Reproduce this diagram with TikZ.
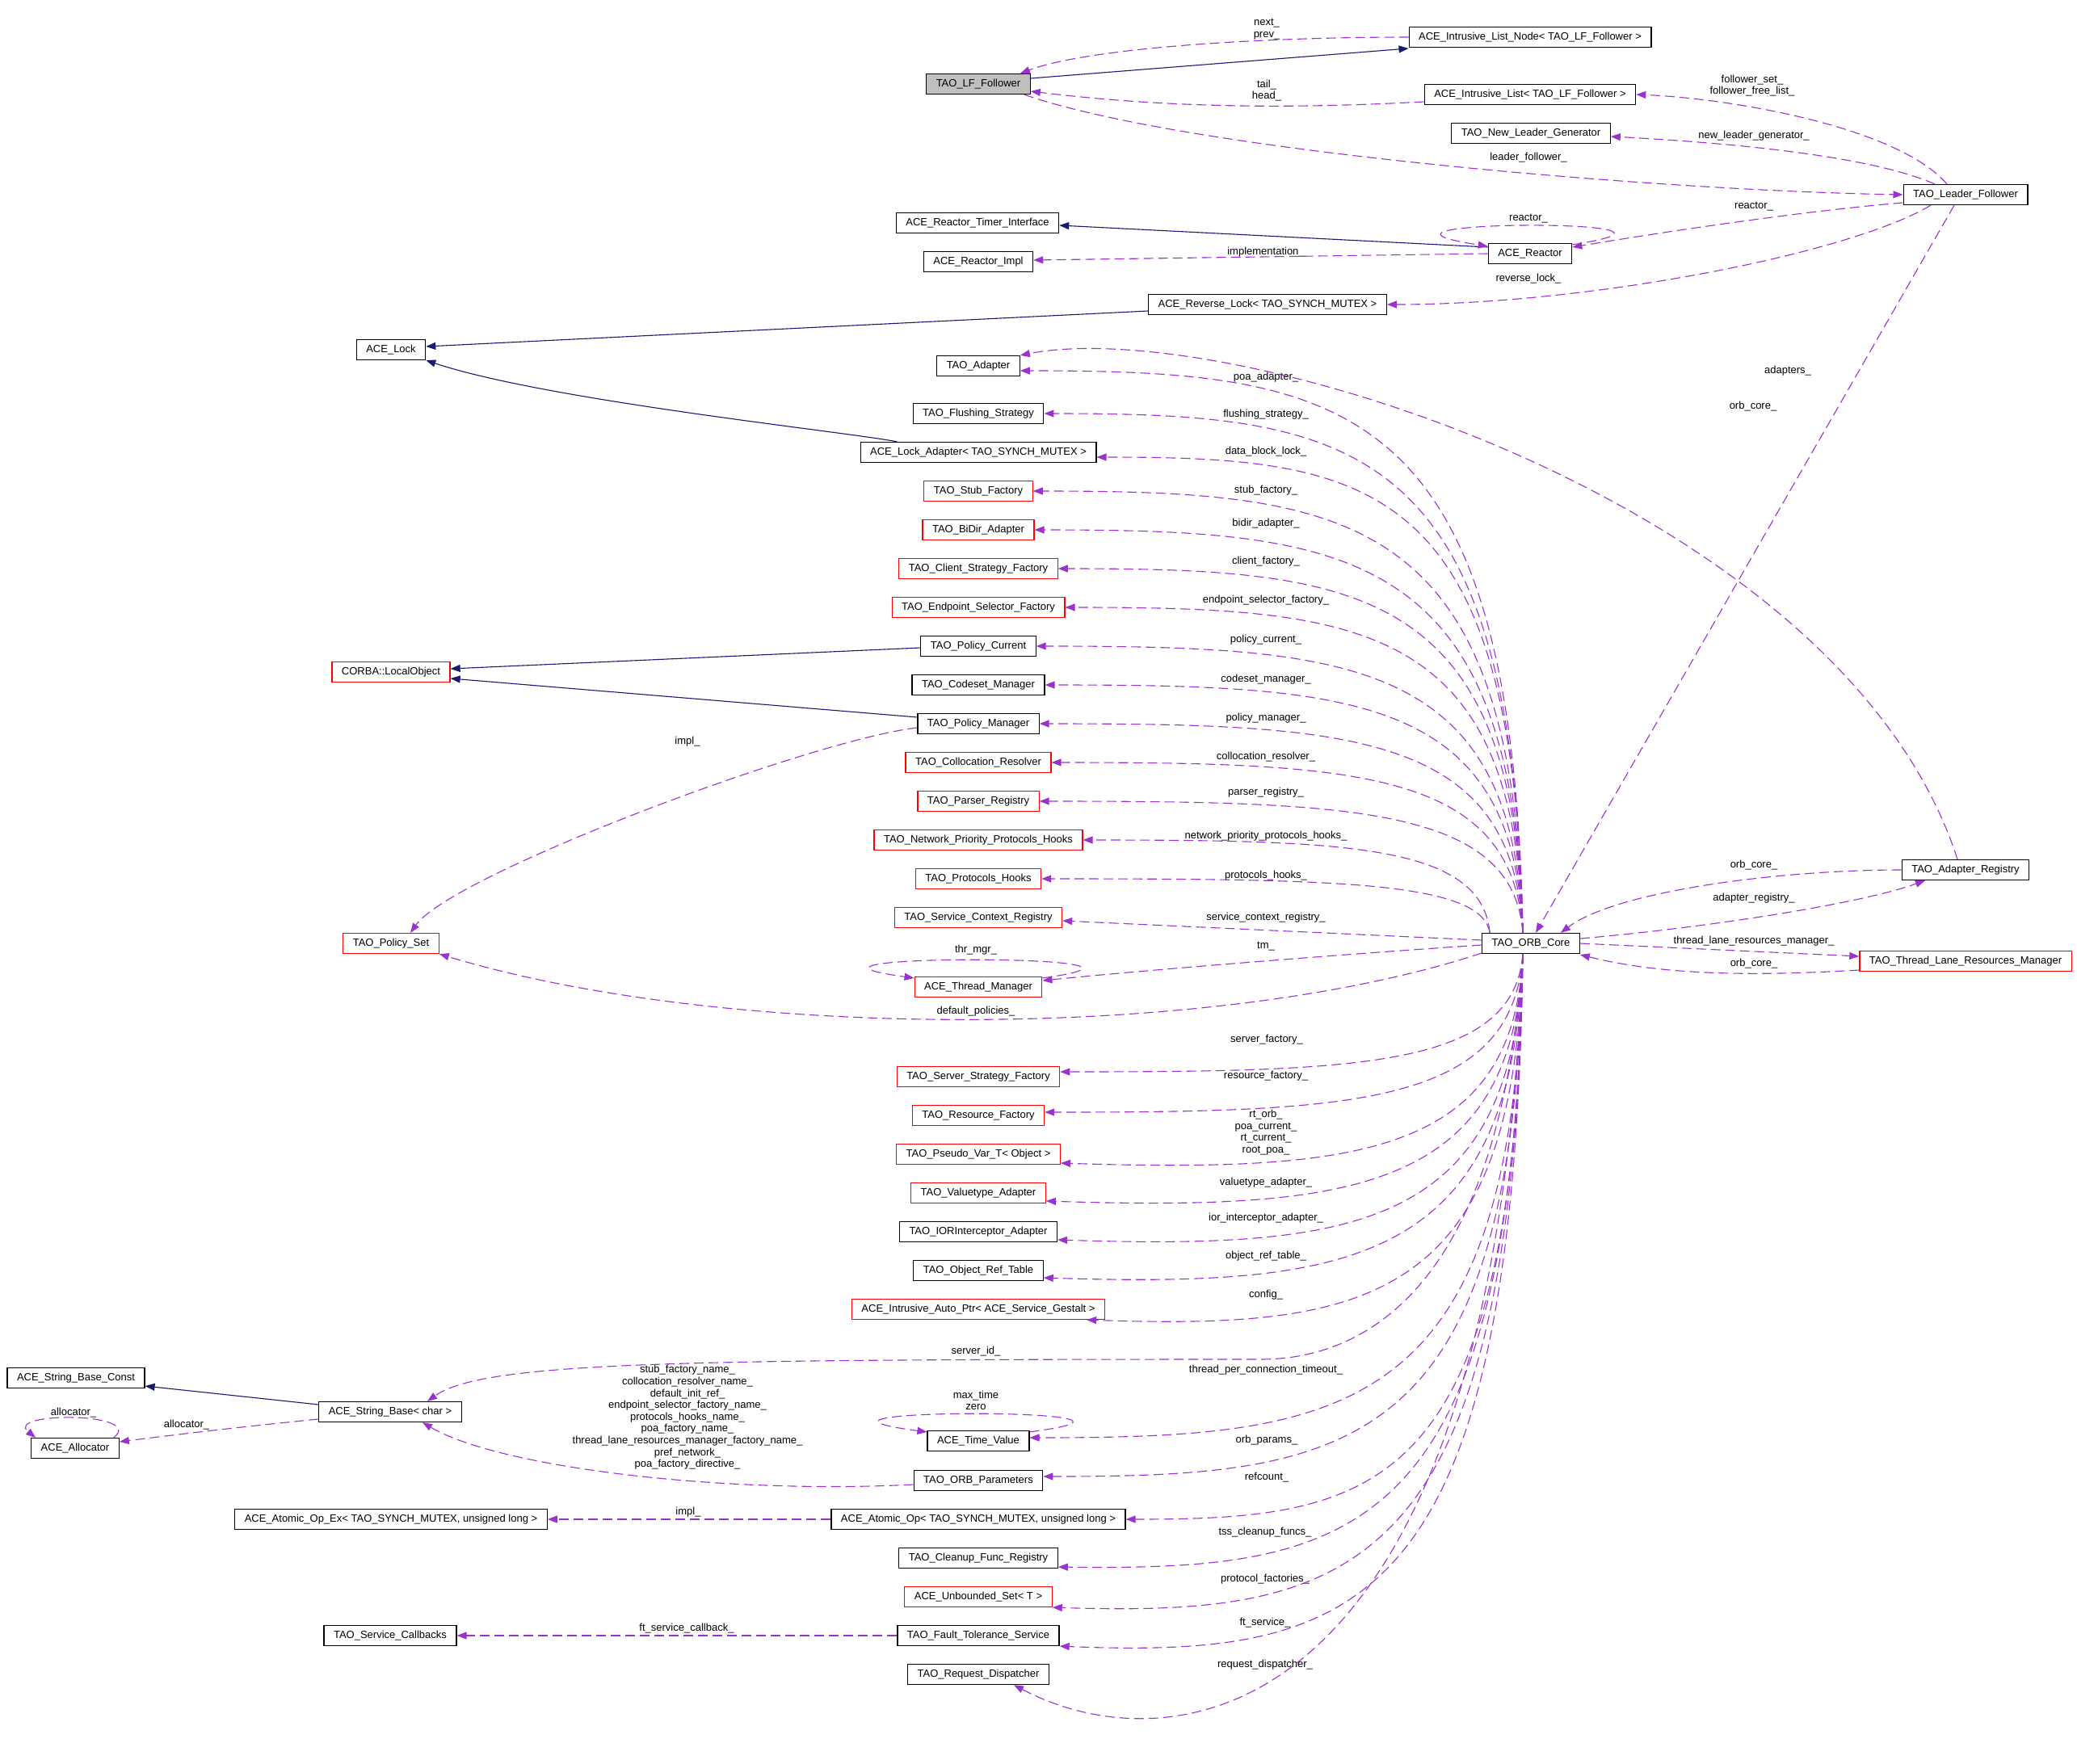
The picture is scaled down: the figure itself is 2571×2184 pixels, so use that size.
\documentclass[tikz,border=0pt]{standalone}
\usepackage{fontspec}
\setmainfont{Liberation Sans}
\usetikzlibrary{arrows.meta}
\definecolor{inhblue}{HTML}{191970}
\definecolor{usepurple}{HTML}{9A32CD}
\begin{document}
\begin{tikzpicture}[x=0.5pt,y=-0.5pt,
  every node/.style={font=\fontsize{6.5}{7.3}\selectfont},
  cls/.style={draw=black,line width=0.6pt,rectangle,minimum height=12.5pt,inner xsep=6pt,inner ysep=0pt},
  clsred/.style={cls,draw=red},
  inhedge/.style={draw=inhblue,line width=0.55pt,-{Triangle[length=6pt,width=4.5pt]}},
  useedge/.style={draw=usepurple,line width=0.55pt,dash pattern=on 6pt off 3pt,-{Triangle[length=6pt,width=4.5pt]}},
  lbl/.style={inner sep=0pt,align=center}]
\useasboundingbox (0,0) rectangle (2571,2184);
\fill[white] (0,0) rectangle (2571,2184);
%top
\node[cls,fill=gray!50] (lf) at (1211,104) {TAO\_LF\_Follower};
\node[cls] (iln) at (1894,46) {ACE\_Intrusive\_List\_Node< TAO\_LF\_Follower >};
\node[cls] (il) at (1894,117) {ACE\_Intrusive\_List< TAO\_LF\_Follower >};
\node[cls] (nlg) at (1895,165) {TAO\_New\_Leader\_Generator};
\node[cls] (lfol) at (2433,241) {TAO\_Leader\_Follower};
\node[cls] (rti) at (1210,276) {ACE\_Reactor\_Timer\_Interface};
\node[cls] (rimpl) at (1211,324) {ACE\_Reactor\_Impl};
\node[cls] (reactor) at (1894,314) {ACE\_Reactor};
\node[cls] (rlock) at (1569,377) {ACE\_Reverse\_Lock< TAO\_SYNCH\_MUTEX >};
\node[cls] (lock) at (484,433) {ACE\_Lock};
%column above the core
\node[cls] (adapter) at (1211,453) {TAO\_Adapter};
\node[cls] (flush) at (1211,512) {TAO\_Flushing\_Strategy};
\node[cls] (lockad) at (1211,560) {ACE\_Lock\_Adapter< TAO\_SYNCH\_MUTEX >};
\node[clsred] (stub) at (1211,608) {TAO\_Stub\_Factory};
\node[clsred] (bidir) at (1211,656) {TAO\_BiDir\_Adapter};
\node[clsred] (client) at (1211,704) {TAO\_Client\_Strategy\_Factory};
\node[clsred] (endpoint) at (1211,752) {TAO\_Endpoint\_Selector\_Factory};
\node[cls] (pcur) at (1211,800) {TAO\_Policy\_Current};
\node[cls] (codeset) at (1211,848) {TAO\_Codeset\_Manager};
\node[cls] (pman) at (1211,896) {TAO\_Policy\_Manager};
\node[clsred] (colloc) at (1211,944) {TAO\_Collocation\_Resolver};
\node[clsred] (parser) at (1211,992) {TAO\_Parser\_Registry};
\node[clsred] (netprio) at (1211,1040) {TAO\_Network\_Priority\_Protocols\_Hooks};
\node[clsred] (phooks) at (1211,1088) {TAO\_Protocols\_Hooks};
\node[clsred] (scr) at (1211,1136) {TAO\_Service\_Context\_Registry};
\node[clsred] (thrmgr) at (1211,1222) {ACE\_Thread\_Manager};
\node[clsred] (localobj) at (484,832) {CORBA::LocalObject};
\node[clsred] (policyset) at (484,1168) {TAO\_Policy\_Set};
%core
\node[cls] (orb) at (1895,1168) {TAO\_ORB\_Core};
\node[cls] (adreg) at (2433,1077) {TAO\_Adapter\_Registry};
\node[clsred] (tlrm) at (2433,1190) {TAO\_Thread\_Lane\_Resources\_Manager};
%column below the core
\node[clsred] (server) at (1211,1333) {TAO\_Server\_Strategy\_Factory};
\node[clsred] (resource) at (1211,1381) {TAO\_Resource\_Factory};
\node[clsred] (pseudo) at (1211,1429) {TAO\_Pseudo\_Var\_T< Object >};
\node[clsred] (valuetype) at (1211,1477) {TAO\_Valuetype\_Adapter};
\node[cls] (ior) at (1211,1525) {TAO\_IORInterceptor\_Adapter};
\node[cls] (objref) at (1211,1573) {TAO\_Object\_Ref\_Table};
\node[clsred] (autoptr) at (1211,1621) {ACE\_Intrusive\_Auto\_Ptr< ACE\_Service\_Gestalt >};
\node[cls] (timeval) at (1211,1784) {ACE\_Time\_Value};
\node[cls] (orbparams) at (1211,1833) {TAO\_ORB\_Parameters};
\node[cls] (atomic) at (1211,1881) {ACE\_Atomic\_Op< TAO\_SYNCH\_MUTEX, unsigned long >};
\node[cls] (cleanup) at (1211,1929) {TAO\_Cleanup\_Func\_Registry};
\node[clsred] (unbounded) at (1211,1977) {ACE\_Unbounded\_Set< T >};
\node[cls] (ftserv) at (1211,2025) {TAO\_Fault\_Tolerance\_Service};
\node[cls] (reqdisp) at (1211,2073) {TAO\_Request\_Dispatcher};
%left bottom
\node[cls] (strconst) at (94,1706) {ACE\_String\_Base\_Const};
\node[cls] (strbase) at (483,1748) {ACE\_String\_Base< char >};
\node[cls] (alloc) at (93,1793) {ACE\_Allocator};
\node[cls] (atomicex) at (484,1881) {ACE\_Atomic\_Op\_Ex< TAO\_SYNCH\_MUTEX, unsigned long >};
\node[cls] (svccb) at (483,2025) {TAO\_Service\_Callbacks};
\coordinate (sidbend) at (1560,1683);
%labels
\node[lbl] (lnext) at (1568,36) {next\_\\prev\_};
\node[lbl] (ltail) at (1568,112) {tail\_\\head\_};
\node[lbl] (lfset) at (2169,106) {follower\_set\_\\follower\_free\_list\_};
\node[lbl] (lnlg) at (2171,168) {new\_leader\_generator\_};
\node[lbl] (llf) at (1892,195) {leader\_follower\_};
\node[lbl] (lreact) at (2171,256) {reactor\_};
\node[lbl] (lreactself) at (1892,271) {reactor\_};
\node[lbl] (limpl) at (1567,312) {implementation\_};
\node[lbl] (lrlock) at (1892,345) {reverse\_lock\_};
\node[lbl] (lorbtop) at (2170,503) {orb\_core\_};
\node[lbl] (ladapters) at (2213,459) {adapters\_};
\node[lbl] (lpoa) at (1567,467) {poa\_adapter\_};
\node[lbl] (lflush) at (1567,513) {flushing\_strategy\_};
\node[lbl] (ldbl) at (1567,559) {data\_block\_lock\_};
\node[lbl] (lstub) at (1567,607) {stub\_factory\_};
\node[lbl] (lbidir) at (1567,648) {bidir\_adapter\_};
\node[lbl] (lclient) at (1567,695) {client\_factory\_};
\node[lbl] (lendpoint) at (1567,743) {endpoint\_selector\_factory\_};
\node[lbl] (lpcur) at (1567,792) {policy\_current\_};
\node[lbl] (lcodeset) at (1567,841) {codeset\_manager\_};
\node[lbl] (lpman) at (1567,889) {policy\_manager\_};
\node[lbl] (lcolloc) at (1567,937) {collocation\_resolver\_};
\node[lbl] (lparser) at (1567,981) {parser\_registry\_};
\node[lbl] (lnetprio) at (1567,1035) {network\_priority\_protocols\_hooks\_};
\node[lbl] (lphooks) at (1567,1084) {protocols\_hooks\_};
\node[lbl] (lscr) at (1567,1136) {service\_context\_registry\_};
\node[lbl] (ltm) at (1567,1172) {tm\_};
\node[lbl] (lthr) at (1208,1176) {thr\_mgr\_};
\node[lbl] (ldefpol) at (1208,1252) {default\_policies\_};
\node[lbl] (lpimpl) at (851,918) {impl\_};
\node[lbl] (lserver) at (1568,1287) {server\_factory\_};
\node[lbl] (lresource) at (1567,1332) {resource\_factory\_};
\node[lbl] (lpseudo) at (1567,1402) {rt\_orb\_\\poa\_current\_\\rt\_current\_\\root\_poa\_};
\node[lbl] (lvaluetype) at (1567,1464) {valuetype\_adapter\_};
\node[lbl] (lior) at (1567,1508) {ior\_interceptor\_adapter\_};
\node[lbl] (lobjref) at (1567,1555) {object\_ref\_table\_};
\node[lbl] (lconfig) at (1567,1603) {config\_};
\node[lbl] (lsid) at (1208,1673) {server\_id\_};
\node[lbl] (ltpct) at (1567,1696) {thread\_per\_connection\_timeout\_};
\node[lbl] (lmaxt) at (1208,1734) {max\_time\\zero};
\node[lbl] (lorbp) at (1568,1783) {orb\_params\_};
\node[lbl] (lref) at (1568,1829) {refcount\_};
\node[lbl] (lnames) at (851,1755) {stub\_factory\_name\_\\collocation\_resolver\_name\_\\default\_init\_ref\_\\endpoint\_selector\_factory\_name\_\\protocols\_hooks\_name\_\\poa\_factory\_name\_\\thread\_lane\_resources\_manager\_factory\_name\_\\pref\_network\_\\poa\_factory\_directive\_};
\node[lbl] (lalloc) at (231,1764) {allocator\_};
\node[lbl] (lallocself) at (91,1749) {allocator\_};
\node[lbl] (laimpl) at (852,1872) {impl\_};
\node[lbl] (ltss) at (1566,1897) {tss\_cleanup\_funcs\_};
\node[lbl] (lprotf) at (1566,1955) {protocol\_factories\_};
\node[lbl] (lft) at (1566,2009) {ft\_service\_};
\node[lbl] (lreq) at (1566,2061) {request\_dispatcher\_};
\node[lbl] (lftcb) at (850,2016) {ft\_service\_callback\_};
\node[lbl] (lorbar) at (2171,1071) {orb\_core\_};
\node[lbl] (ladreg) at (2171,1112) {adapter\_registry\_};
\node[lbl] (ltlrm) at (2171,1165) {thread\_lane\_resources\_manager\_};
\node[lbl] (lorbtl) at (2171,1193) {orb\_core\_};
%inheritance
\draw[inhedge] ([yshift=3.5pt]lf.east) -- ([yshift=-7pt]iln.west);
\draw[inhedge] ([yshift=4pt]reactor.west) -- ([yshift=-1.5pt]rti.east);
\draw[inhedge] ([yshift=-4pt]rlock.west) -- ([yshift=2pt]lock.east);
\draw[inhedge] ([xshift=23pt]lockad.north west) .. controls +(-60,-12) and +(150,50) .. (lock.south east);
\draw[inhedge] ([yshift=-1pt]pcur.west) -- ([yshift=2pt]localobj.east);
\draw[inhedge] ([yshift=4pt]pman.west) -- ([yshift=-4pt]localobj.east);
\draw[inhedge] ([yshift=4.5pt]strbase.west) -- ([yshift=-5pt]strconst.east);
%follower, leader, reactor
\draw[useedge] (iln.west) .. controls +(-200,0) and +(80,-30) .. ([xshift=-6.5pt]lf.north east);
\draw[useedge] ([yshift=-4.5pt]il.west) .. controls +(-150,8) and +(180,22) .. ([yshift=-4.5pt]lf.east);
\draw[useedge] ([xshift=-4pt]lf.south east) .. controls +(200,70) and +(-300,-5) .. (lfol.west);
\draw[useedge] ([xshift=-11.5pt]lfol.north) .. controls +(-60,-70) and +(120,5) .. (il.east);
\draw[useedge] ([xshift=-19pt]lfol.north) .. controls +(-80,-35) and +(150,8) .. ([yshift=-2pt]nlg.east);
\draw[useedge] ([yshift=-5pt]lfol.west) .. controls +(-120,10) and +(120,-20) .. ([yshift=4pt]reactor.east);
\draw[useedge] ([yshift=-1pt]reactor.north east) .. controls +(215,-33) and +(-215,-33) .. ([yshift=-2pt]reactor.north west);
\draw[useedge] (reactor.west) -- ([yshift=1pt]rimpl.east);
\draw[useedge] ([xshift=-21.5pt]lfol.south) .. controls +(-100,60) and +(250,0) .. (rlock.east);
\draw[useedge] ([xshift=-7pt]lfol.south) -- ([xshift=3pt]orb.north);
\draw[useedge] ([xshift=-5pt]adreg.north) .. controls +(-143,-443) and +(256,-50) .. (adapter.north east);
%core to column above
\draw[useedge] ([xshift=-5pt]orb.north) .. controls +(-12,-661) and +(405,0) .. ([yshift=-3pt]adapter.east);
\draw[useedge] ([xshift=-5pt]orb.north) .. controls +(-12,-611) and +(385,0) .. (flush.east);
\draw[useedge] ([xshift=-5pt]orb.north) .. controls +(-11,-560) and +(342,0) .. ([yshift=-3pt]lockad.east);
\draw[useedge] ([xshift=-5pt]orb.north) .. controls +(-12,-520) and +(395,0) .. (stub.east);
\draw[useedge] ([xshift=-5pt]orb.north) .. controls +(-12,-474) and +(393,0) .. (bidir.east);
\draw[useedge] ([xshift=-5pt]orb.north) .. controls +(-11,-428) and +(373,0) .. (client.east);
\draw[useedge] ([xshift=-5pt]orb.north) .. controls +(-11,-383) and +(368,0) .. (endpoint.east);
\draw[useedge] ([xshift=-5pt]orb.north) .. controls +(-12,-337) and +(392,0) .. (pcur.east);
\draw[useedge] ([xshift=-5pt]orb.north) .. controls +(-12,-292) and +(385,0) .. (codeset.east);
\draw[useedge] ([xshift=-5pt]orb.north) .. controls +(-12,-246) and +(389,0) .. (pman.east);
\draw[useedge] ([xshift=-5pt]orb.north) .. controls +(-12,-200) and +(380,0) .. (colloc.east);
\draw[useedge] ([xshift=-5pt]orb.north) .. controls +(-12,-155) and +(389,0) .. (parser.east);
\draw[useedge] ([xshift=5pt]orb.north west) .. controls +(-10,-109) and +(326,0) .. (netprio.east);
\draw[useedge] ([xshift=5pt]orb.north west) .. controls +(-10,-64) and +(361,0) .. (phooks.east);
\draw[useedge] ([yshift=2pt]orb.west) -- ([yshift=-2pt]scr.east);
\draw[useedge] ([yshift=-1pt]orb.west) .. controls +(-150,10) and +(150,-15) .. ([yshift=4pt]thrmgr.east);
\draw[useedge] ([yshift=-1pt]thrmgr.north east) .. controls +(220,-30) and +(-220,-30) .. ([yshift=-1pt]thrmgr.north west);
\draw[useedge] ([yshift=-6pt]orb.west) .. controls +(-334,110) and +(353,107) .. (policyset.south east);
\draw[useedge] ([yshift=-2.5pt]pman.west) .. controls +(-127,14) and +(52,-73) .. ([xshift=12pt]policyset.north);
%core to the right
\draw[useedge] (adreg.west) .. controls +(-150,0) and +(69,-52) .. ([xshift=-12pt]orb.north east);
\draw[useedge] ([yshift=3pt]orb.east) .. controls +(143,-12) and +(-83,30) .. ([xshift=-25pt]adreg.south);
\draw[useedge] (orb.east) -- ([yshift=3pt]tlrm.west);
\draw[useedge] ([yshift=-5.5pt]tlrm.west) .. controls +(-150,9) and +(93,23) .. ([yshift=-7pt]orb.east);
%core to column below
\draw[useedge] ([xshift=-5pt]orb.south) .. controls +(-11,140) and +(372,0) .. ([yshift=3pt]server.east);
\draw[useedge] ([xshift=-5pt]orb.south) .. controls +(-12,187) and +(385,0) .. ([yshift=2pt]resource.east);
\draw[useedge] ([xshift=-5pt]orb.south) .. controls +(-11,247) and +(372,12) .. ([yshift=-5.5pt]pseudo.east);
\draw[useedge] ([xshift=-5pt]orb.south) .. controls +(-12,292) and +(384,12) .. ([yshift=-5pt]valuetype.east);
\draw[useedge] ([xshift=-5pt]orb.south) .. controls +(-12,337) and +(375,12) .. ([yshift=-5pt]ior.east);
\draw[useedge] ([xshift=-5pt]orb.south) .. controls +(-12,382) and +(385,12) .. ([yshift=-4.5pt]objref.east);
\draw[useedge] ([xshift=-5pt]orb.south) .. controls +(-11,430) and +(350,12) .. ([xshift=-11.5pt]autoptr.south east);
\draw[useedge] ([xshift=-5pt]orb.south) .. controls +(-25,370) and +(160,0) .. (sidbend) .. controls +(-700,0) and +(70,-50) .. ([xshift=23pt]strbase.north);
\draw[useedge] ([xshift=-5pt]orb.south) .. controls +(-12,570) and +(397,0) .. ([yshift=2pt]timeval.east);
\draw[useedge] ([yshift=-1pt]timeval.north east) .. controls +(228,-30) and +(-228,-30) .. ([yshift=-1pt]timeval.north west);
\draw[useedge] ([xshift=-5pt]orb.south) .. controls +(-12,616) and +(385,0) .. ([yshift=2.5pt]orbparams.east);
\draw[useedge] ([xshift=-5pt]orb.south) .. controls +(-10,666) and +(318,0) .. (atomic.east);
\draw[useedge] ([xshift=-5pt]orb.south) .. controls +(-12,722) and +(375,5) .. ([yshift=-5.5pt]cleanup.east);
\draw[useedge] ([xshift=-5pt]orb.south) .. controls +(-12,769) and +(378,12) .. (unbounded.south east);
\draw[useedge] ([xshift=-5pt]orb.south) .. controls +(-11,814) and +(375,15) .. (ftserv.south east);
\draw[useedge] ([xshift=-5pt]orb.south) .. controls +(-35,970) and +(195,103) .. ([xshift=22pt]reqdisp.south);
%left bottom
\draw[useedge] ([yshift=-2.5pt]orbparams.west) .. controls +(-230,12) and +(97,57) .. ([xshift=20pt]strbase.south);
\draw[useedge] ([yshift=-4.5pt]strbase.west) .. controls +(-100,10) and +(80,-10) .. ([yshift=4pt]alloc.east);
\draw[useedge] ([xshift=-3.5pt]alloc.north east) .. controls +(40,-32) and +(-40,-32) .. ([xshift=3pt]alloc.north west);
\draw[useedge] (atomic.west) -- (atomicex.east);
\draw[useedge] (ftserv.west) -- (svccb.east);
\end{tikzpicture}
\end{document}
